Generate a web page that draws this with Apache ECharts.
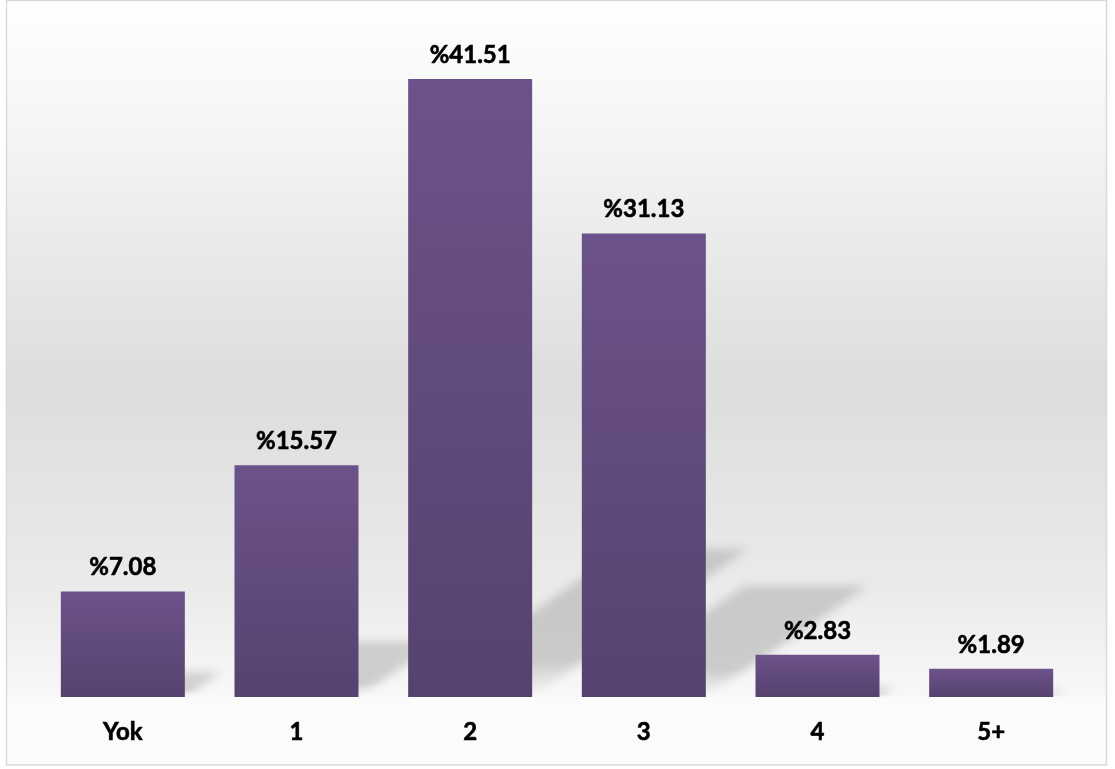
<!DOCTYPE html>
<html>
<head>
<meta charset="utf-8">
<script src="https://cdn.jsdelivr.net/npm/echarts@6/dist/echarts.min.js"></script>
<style>
html,body{margin:0;padding:0;background:#fff;}
#chart{width:1115px;height:769px;}
</style>
</head>
<body>
<div id="chart"></div>
<script>
var categories = ['Yok', '1', '2', '3', '4', '5+'];
var values = [7.08, 15.57, 41.51, 31.13, 2.83, 1.89];

var BAR_GAP = 0.286;
var chart = echarts.init(document.getElementById('chart'));

var shadowData = values.map(function (v, i) { return [i, v]; });

function renderShadow(params, api) {
  var idx = api.value(0), v = api.value(1);
  var top = api.coord([idx, v]);
  var base = api.coord([idx, 0]);
  var bw = api.size([1, 0])[0] * (1 - BAR_GAP);
  var x0 = base[0] - bw / 2, x1 = base[0] + bw / 2;
  var h = base[1] - top[1];
  var dx = h * 0.35, dy = h * 0.24;
  var off = 4000;
  return {
    type: 'polygon',
    silent: true,
    shape: {
      points: [
        [x0 - off, base[1]],
        [x1 - off, base[1]],
        [x1 + dx - off, base[1] - dy],
        [x0 + dx - off, base[1] - dy]
      ]
    },
    style: {
      fill: new echarts.graphic.LinearGradient(0, 0, 0, 1, [
        { offset: 0, color: 'rgba(0,0,0,0.85)' },
        { offset: 0.75, color: 'rgba(0,0,0,1)' },
        { offset: 1, color: 'rgba(0,0,0,0)' }
      ]),
      shadowBlur: 10,
      shadowColor: 'rgba(0,0,0,0.17)',
      shadowOffsetX: off,
      shadowOffsetY: 0
    }
  };
}

var labelFont = {
  fontFamily: 'Lato', fontWeight: 'bold', fontSize: 24, color: '#000',
  textBorderColor: '#000', textBorderWidth: 0.6
};

chart.setOption({
  animation: false,
  backgroundColor: '#ffffff',
  graphic: [
    {
      type: 'rect', z: -10, silent: true,
      shape: { x: 7, y: 1, width: 1099, height: 696 },
      style: {
        fill: new echarts.graphic.LinearGradient(0, 0, 0, 1, [
          { offset: 0, color: '#ffffff' },
          { offset: 0.2, color: '#f4f4f4' },
          { offset: 0.55, color: '#dddddd' },
          { offset: 0.85, color: '#ebebeb' },
          { offset: 1, color: '#f8f8f8' }
        ])
      }
    },
    {
      type: 'rect', z: -10, silent: true,
      shape: { x: 7, y: 697, width: 1099, height: 67 },
      style: { fill: '#fbfbfb' }
    },
    {
      type: 'rect', z: 100, silent: true,
      shape: { x: 6.5, y: 0.5, width: 1100, height: 764.5 },
      style: { fill: 'none', stroke: '#d9d9d9', lineWidth: 1.5 }
    }
  ],
  grid: { left: 36, right: 37, top: 27, bottom: 72 },
  xAxis: {
    type: 'category',
    data: categories,
    axisLine: { show: false },
    axisTick: { show: false },
    axisLabel: Object.assign({ margin: 23 }, labelFont)
  },
  yAxis: {
    type: 'value', min: 0, max: 45, show: false,
    splitLine: { show: false }
  },
  series: [
    {
      type: 'custom',
      z: 1,
      clip: false,
      silent: true,
      data: shadowData,
      encode: { x: 0, y: 1 },
      renderItem: renderShadow
    },
    {
      type: 'bar',
      z: 2,
      data: values,
      barCategoryGap: (BAR_GAP * 100) + '%',
      itemStyle: {
        color: new echarts.graphic.LinearGradient(0, 0, 0, 1, [
          { offset: 0, color: '#6c528a' },
          { offset: 1, color: '#56426f' }
        ])
      },
      label: Object.assign({
        show: true,
        position: 'top',
        distance: 12,
        formatter: function (p) { return '%' + p.value.toFixed(2); }
      }, labelFont)
    }
  ]
});
</script>
</body>
</html>
